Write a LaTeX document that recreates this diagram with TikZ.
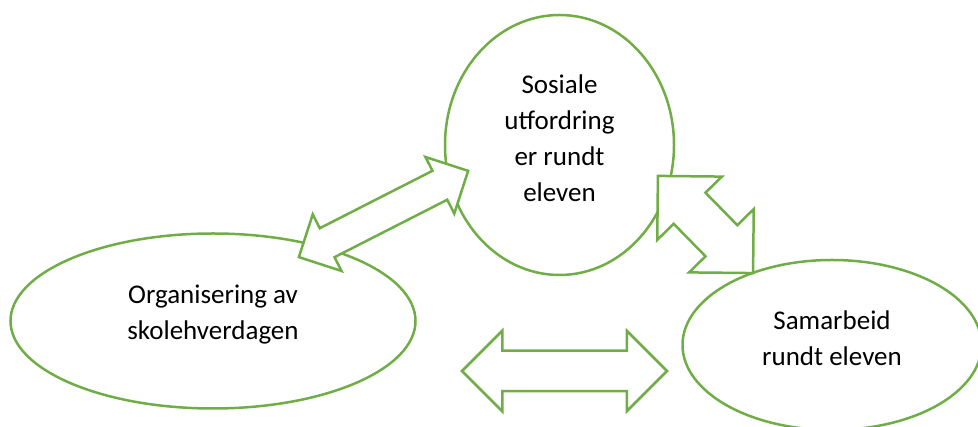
\documentclass[tikz,border=0pt]{standalone}
\usepackage{fontspec}
\setmainfont{Carlito}
\usetikzlibrary{shapes.geometric, shapes.arrows}
\definecolor{leafgreen}{HTML}{70AD47}

\begin{document}
\begin{tikzpicture}[x=1pt,y=1pt,
  bubble/.style={ellipse, draw=leafgreen, line width=2.5pt, inner sep=0pt},
  bubbletext/.style={align=center, inner sep=0pt, yshift=6.5pt, font=\fontsize{27}{36}\selectfont},
  twoway/.style={double arrow, draw=leafgreen, fill=white, line width=2.5pt, inner xsep=0pt, double arrow tip angle=90}]
\useasboundingbox (0,0) rectangle (978,427);
\node[bubble, minimum width=229pt, minimum height=260pt] (sosiale) at (559.5,282) {};
\node[bubble, minimum width=405pt, minimum height=175pt] (organisering) at (213,106) {};
\node[bubble, minimum width=299pt, minimum height=170pt] (samarbeid) at (832,82) {};
\node[bubbletext] (sosialetekst) at (sosiale) {Sosiale\\utfordring\\er rundt\\eleven};
\node[bubbletext] (organiseringtekst) at (organisering) {Organisering av\\skolehverdagen};
\node[bubbletext] (samarbeidtekst) at (samarbeid) {Samarbeid\\rundt eleven};
\node[twoway, rotate=27, minimum height=190pt, minimum width=61pt, inner ysep=15pt, double arrow head extend=15.5pt] (venstrepil) at (383.5,213) {};
\node[twoway, rotate=-45.6, minimum height=136pt, minimum width=88pt, inner ysep=21pt, double arrow head extend=23pt] (hoyrepil) at (705.5,202.5) {};
\node[twoway, minimum height=205pt, minimum width=78pt, inner ysep=19pt, double arrow head extend=20pt] (nederstpil) at (564.5,56) {};
\end{tikzpicture}
\end{document}
